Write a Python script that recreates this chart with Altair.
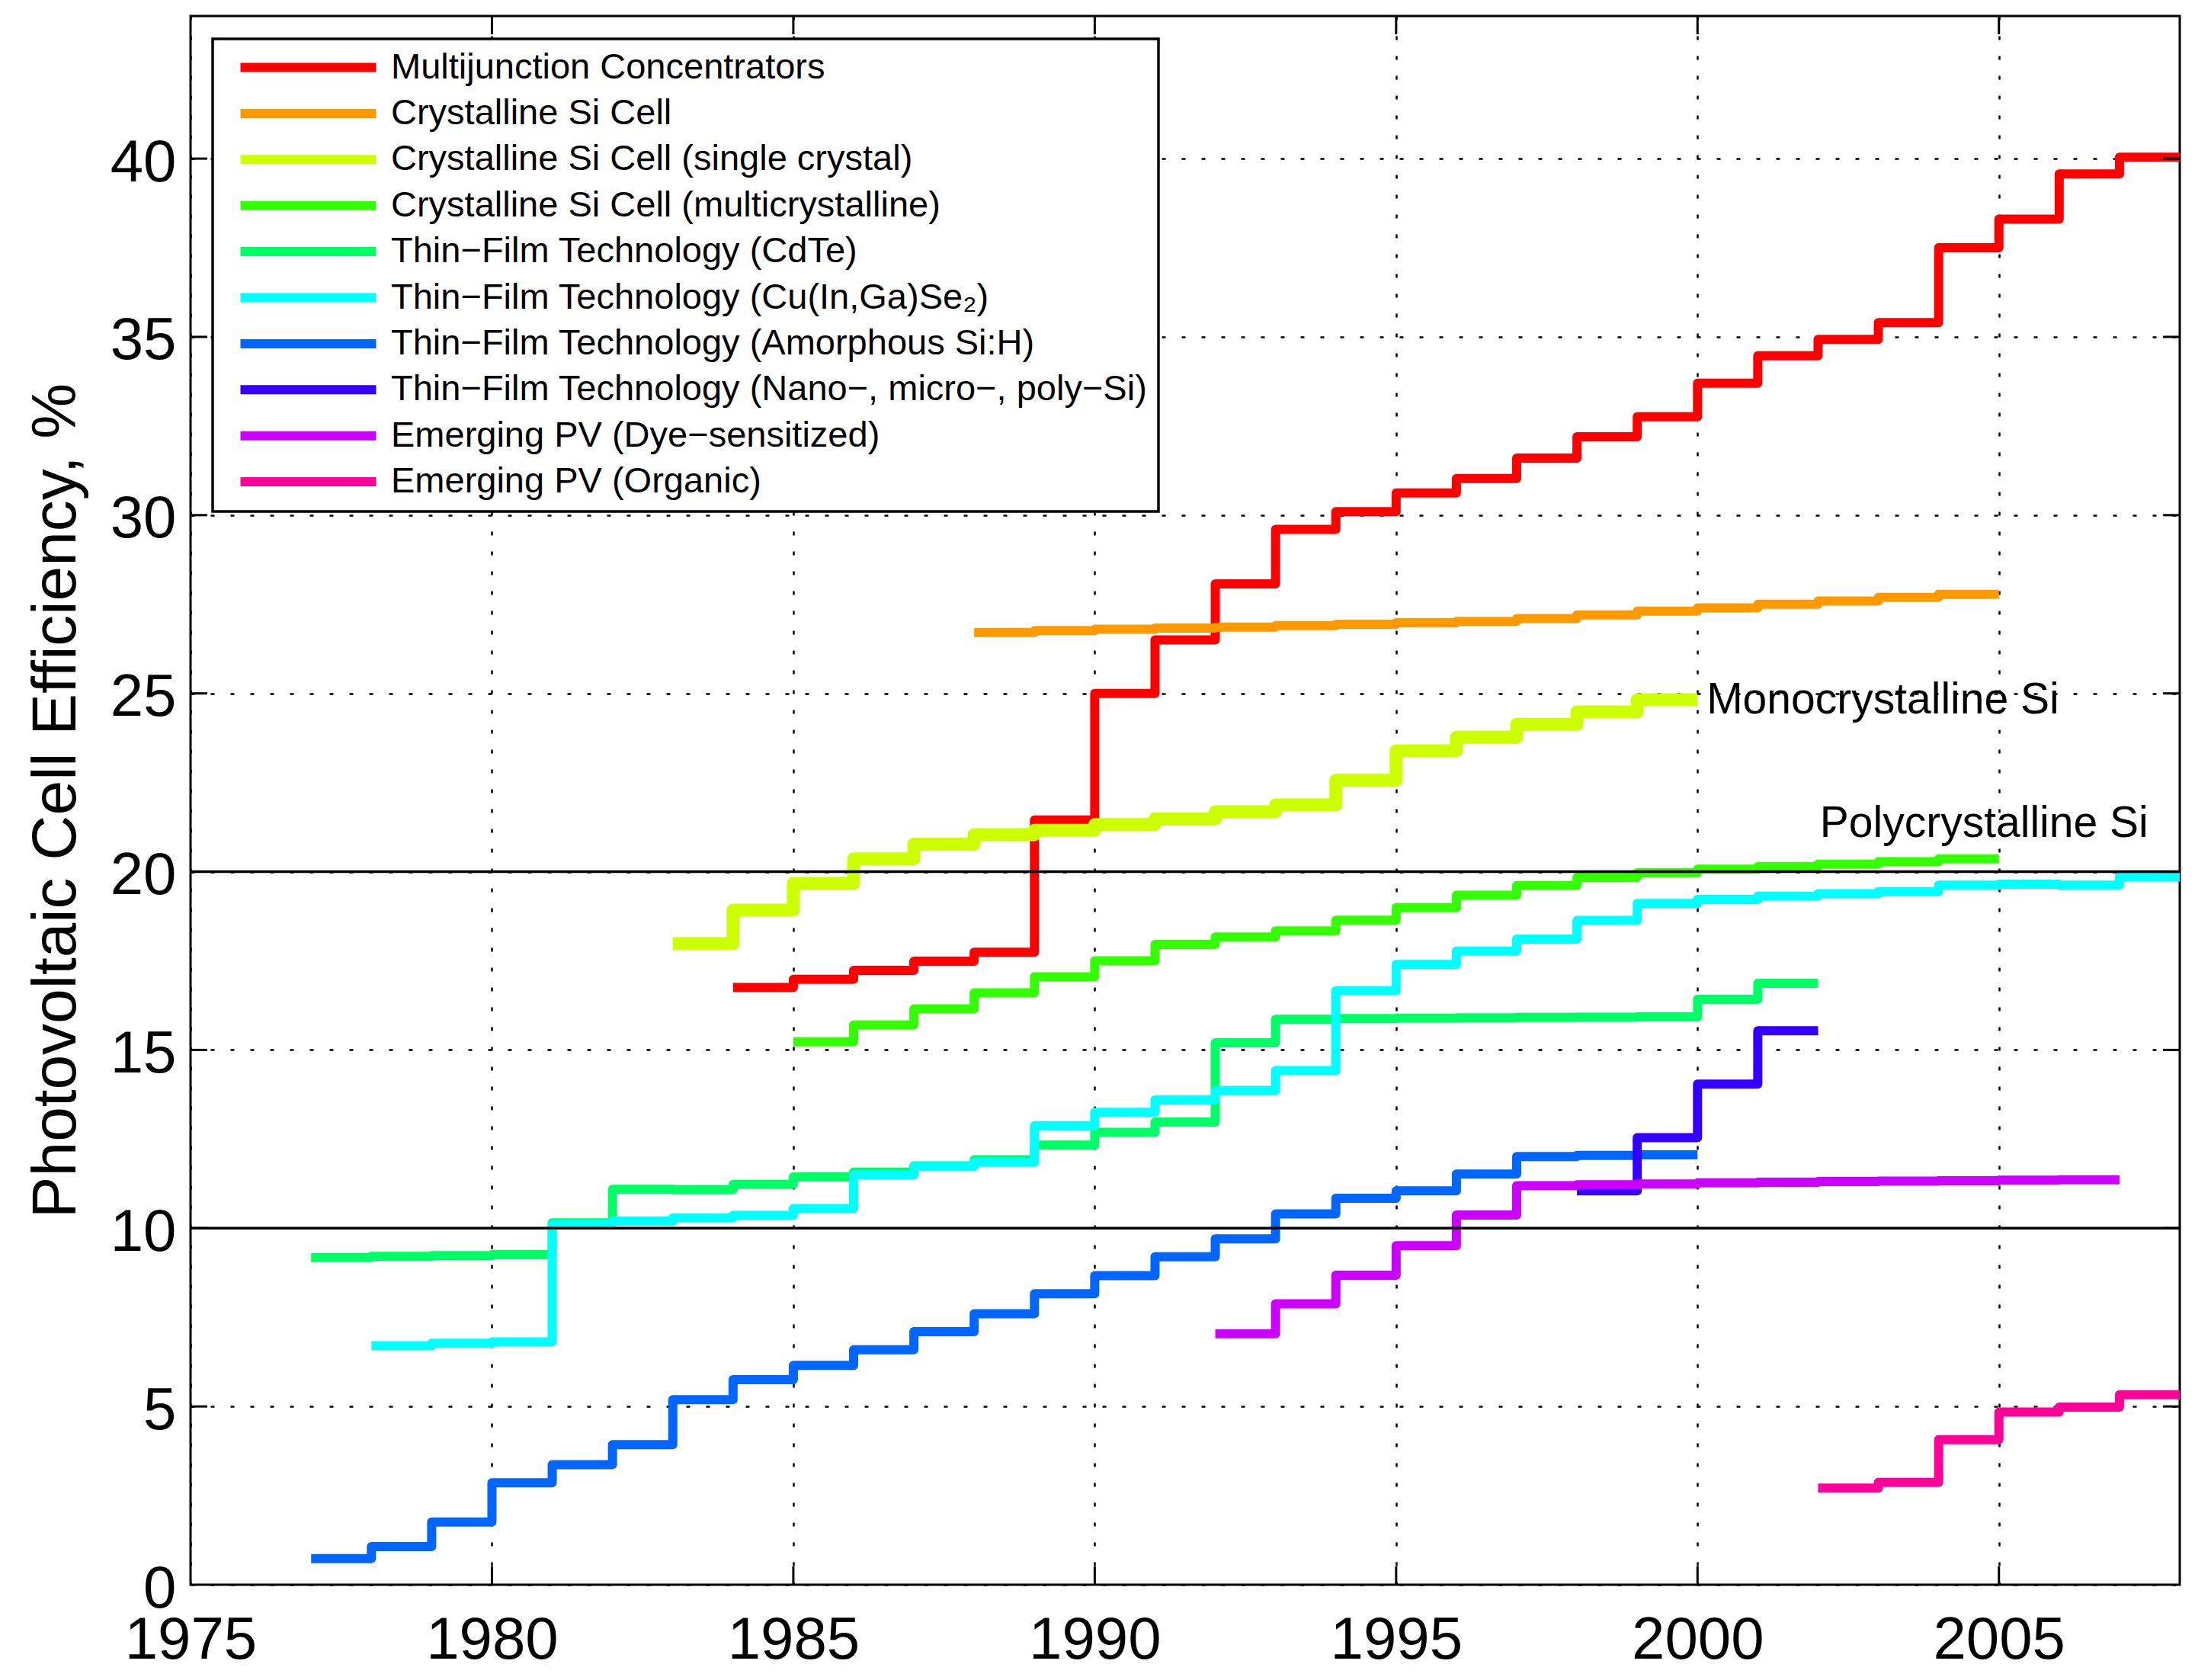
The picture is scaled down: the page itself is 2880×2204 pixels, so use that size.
import altair as alt
import pandas as pd

# ---------------- data ----------------
series_names = [
    "Multijunction Concentrators",
    "Crystalline Si Cell",
    "Crystalline Si Cell (single crystal)",
    "Crystalline Si Cell (multicrystalline)",
    "Thin\u2212Film Technology (CdTe)",
    "Thin\u2212Film Technology (Cu(In,Ga)Se\u2082)",
    "Thin\u2212Film Technology (Amorphous Si:H)",
    "Thin\u2212Film Technology (Nano\u2212, micro\u2212, poly\u2212Si)",
    "Emerging PV (Dye\u2212sensitized)",
    "Emerging PV (Organic)",
]
series_colors = ["#ff0000", "#ff9900", "#ccff00", "#33ff00", "#00ff66",
                 "#00ffff", "#0066ff", "#3300ff", "#cc00ff", "#ff0099"]
series_widths = [12, 12, 17, 12, 12, 12, 12, 12, 12, 12]

# first year, last year (end of last step), yearly values
mj_span = [1984, 2008]
mj_values = [16.75, 16.98, 17.23, 17.49, 17.74, 21.45, 25.0, 26.5, 28.07, 29.6,
             30.1, 30.62, 31.03, 31.6, 32.2, 32.76, 33.7, 34.47, 34.93, 35.4,
             37.5, 38.3, 39.57, 40.04]

csi_span = [1988, 2005]
csi_values = [26.71, 26.76, 26.8, 26.83, 26.86, 26.9, 26.94, 26.98, 27.02, 27.1,
              27.2, 27.31, 27.4, 27.5, 27.59, 27.69, 27.78]

sc_span = [1983, 2000]
sc_values = [17.98, 18.92, 19.67, 20.36, 20.77, 21.04, 21.16, 21.32, 21.48, 21.68,
             21.87, 22.56, 23.39, 23.77, 24.13, 24.48, 24.82]

mc_span = [1985, 2005]
mc_values = [15.23, 15.7, 16.15, 16.6, 17.05, 17.5, 17.96, 18.17, 18.34, 18.64,
             18.99, 19.34, 19.61, 19.84, 19.97, 20.07, 20.14, 20.21, 20.28, 20.36]

cdte_span = [1977, 2002]
cdte_values = [9.18, 9.21, 9.23, 9.26, 10.15, 11.09, 11.08, 11.23, 11.44, 11.57,
               11.75, 11.92, 12.33, 12.69, 12.98, 15.2, 15.86, 15.88, 15.89, 15.9,
               15.91, 15.92, 15.93, 16.42, 16.87]

cigs_span = [1978, 2008]
cigs_values = [6.7, 6.77, 6.81, 10.1, 10.2, 10.29, 10.36, 10.55, 11.49, 11.73,
               11.85, 12.87, 13.25, 13.6, 13.86, 14.42, 16.66, 17.4, 17.77, 18.11,
               18.63, 19.11, 19.22, 19.31, 19.38, 19.44, 19.62, 19.65, 19.62, 19.85]

asi_span = [1977, 2000]
asi_values = [0.73, 1.07, 1.76, 2.86, 3.37, 3.93, 5.19, 5.75, 6.15, 6.59,
              7.1, 7.6, 8.16, 8.67, 9.2, 9.7, 10.4, 10.84, 11.05, 11.52,
              12.01, 12.04, 12.06]

nano_span = [1998, 2002]
nano_values = [11.05, 12.54, 14.04, 15.54]

dye_span = [1992, 2007]
dye_values = [7.04, 7.88, 8.68, 9.51, 10.37, 11.19, 11.22, 11.24, 11.27, 11.29,
              11.31, 11.32, 11.33, 11.35, 11.36]

org_span = [2002, 2008]
org_values = [2.71, 2.87, 4.07, 4.84, 4.98, 5.33]

x_tick_values = [1975, 1980, 1985, 1990, 1995, 2000, 2005]
y_tick_values = [0, 5, 10, 15, 20, 25, 30, 35, 40]
inner_x_ticks = [1980, 1985, 1990, 1995, 2000, 2005]
inner_y_ticks = [5, 10, 15, 20, 25, 30, 35, 40]
solid_lines = [10, 20]

note_texts = ["Monocrystalline Si", "Polycrystalline Si"]
note_x = [2000.15, 2002.03]
note_y = [24.44, 20.97]

# ---------------- tables ----------------
spans = [mj_span, csi_span, sc_span, mc_span, cdte_span,
         cigs_span, asi_span, nano_span, dye_span, org_span]
values = [mj_values, csi_values, sc_values, mc_values, cdte_values,
          cigs_values, asi_values, nano_values, dye_values, org_values]

rows = []
for name, span, vals in zip(series_names, spans, values):
    for i, v in enumerate(vals):
        rows.append({"series": name, "year": span[0] + i, "value": v})
    rows.append({"series": name, "year": span[1], "value": vals[-1]})
df = pd.DataFrame(rows)

W, H = 2610, 2058
FONT = "Liberation Sans"

x_enc = alt.X(
    "year:Q",
    scale=alt.Scale(domain=[1975, 2008], nice=False, zero=False),
    axis=alt.Axis(values=x_tick_values, format="d", title=None, grid=True,
                  ticks=False, tickSize=0, domain=False, labelPadding=34,
                  labelFlush=False, labelOverlap=False, labelBound=False,
                  labelFontSize=78),
)
y_enc = alt.Y(
    "value:Q",
    scale=alt.Scale(domain=[0, 44], nice=False, zero=False),
    axis=alt.Axis(values=y_tick_values, title="Photovoltaic Cell Efficiency, %",
                  grid=True, ticks=False, tickSize=0, domain=False,
                  labelPadding=19, labelOffset=6, labelFlush=False,
                  labelOverlap=False, labelFontSize=78,
                  titleX=-152, titleY=H / 2, titleAngle=270, titleAlign="center",
                  titleBaseline="alphabetic", titleFontSize=82,
                  titleFontWeight="normal", titleFont=FONT, titleColor="black"),
)
color_enc = alt.Color(
    "series:N",
    scale=alt.Scale(domain=series_names, range=series_colors),
    legend=alt.Legend(
        title=None, orient="none", legendX=29, legendY=30, direction="vertical",
        symbolType="M-8,0H8", symbolSize=495, symbolStrokeWidth=12,
        symbolOffset=88, labelOffset=85, labelFont=FONT, labelFontSize=47,
        labelColor="black", labelLimit=3000, rowPadding=11.4, padding=14,
        fillColor="white", strokeColor="black",
    ),
)

layers = []
for name, w in zip(series_names, series_widths):
    layers.append(
        alt.Chart(df)
        .transform_filter(alt.FieldEqualPredicate(field="series", equal=name))
        .mark_line(interpolate="step-after", strokeWidth=w, strokeCap="butt",
                   strokeJoin="round")
        .encode(x=x_enc, y=y_enc, color=color_enc)
    )

solid_df = pd.DataFrame({"value": solid_lines})
layers.append(
    alt.Chart(solid_df).mark_rule(color="black", strokeWidth=3.5).encode(y=y_enc)
)

xt_df = pd.DataFrame({"year": inner_x_ticks})
yt_df = pd.DataFrame({"value": inner_y_ticks})
layers.append(alt.Chart(xt_df).mark_rule(color="black", strokeWidth=3).encode(
    x=x_enc, y=alt.value(H), y2=alt.value(H - 24)))
layers.append(alt.Chart(xt_df).mark_rule(color="black", strokeWidth=3).encode(
    x=x_enc, y=alt.value(0), y2=alt.value(24)))
layers.append(alt.Chart(yt_df).mark_rule(color="black", strokeWidth=3).encode(
    y=y_enc, x=alt.value(0), x2=alt.value(22)))
layers.append(alt.Chart(yt_df).mark_rule(color="black", strokeWidth=3).encode(
    y=y_enc, x=alt.value(W - 22), x2=alt.value(W)))

note_df = pd.DataFrame({"text": note_texts, "year": note_x, "value": note_y})
layers.append(
    alt.Chart(note_df)
    .mark_text(align="left", baseline="alphabetic", fontSize=57, font=FONT,
               color="black")
    .encode(x=x_enc, y=y_enc, text="text:N")
)

chart = (
    alt.layer(*layers)
    .properties(width=W, height=H,
                padding={"left": 242, "top": 13, "right": 12, "bottom": 117},
                autosize=alt.AutoSizeParams(type="none"),
                background="white")
    .configure_view(stroke="black", strokeWidth=3)
    .configure_axis(gridColor="black", gridDash=[5, 21], gridWidth=2.5,
                    gridOpacity=1, labelFont=FONT, labelColor="black")
    .configure_legend(strokeWidth=3.5)
)

chart.save("out.html", embed_options={"renderer": "svg", "actions": False})
